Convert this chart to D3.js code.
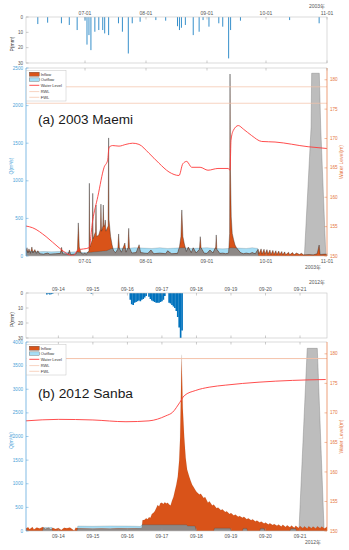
<!DOCTYPE html>
<html><head><meta charset="utf-8">
<script src="https://cdn.jsdelivr.net/npm/d3@7"></script>
<style>
html,body{margin:0;padding:0;background:#fff;}
svg{display:block;font-family:"Liberation Sans",Arial,"Noto Sans CJK SC",sans-serif;}
</style></head><body>
<svg id="chart" width="349" height="550"></svg>
<script>
// ================= DATA =================
const levelTicks = [150, 155, 160, 165, 170, 175, 180];
const levelDomain = [150, 182];
const precipTicks = [0, 10, 20, 30];
const legendLabels = ["Inflow", "Outflow", "Water Level", "RWL", "FWL"];

// ---- (a) 2003 Maemi ----
const yearA = 2003;
const titleA = "(a) 2003 Maemi";
const spanA = ["06-01T00", "11-01T00"];
const ticksA = ["07-01", "08-01", "09-01", "10-01", "11-01"];
const qTicksA = [0, 500, 1000, 1500, 2000, 2500];
const precipA = [["06-07",4.6],["06-12",3.7],["06-19",4.1],["06-23",5.2],["06-27",8.5],["07-01",2.4],["07-02",18],["07-03",11.8],["07-04",21.6],["07-06",9.6],["07-08",8.5],["07-10",8.5],["07-11",10.7],["07-13",11.8],["07-18",4.1],["07-20",9.6],["07-23",23.8],["07-25",4.1],["07-29",3.1],["08-06",2],["08-11",2.4],["08-17",6],["08-18",8.5],["08-19",7],["08-21",5.2],["08-25",11.8],["08-28",9.6],["08-30",2],["09-02",6.3],["09-07",4.1],["09-09",6.3],["09-12",27],["09-13",8.5],["09-18",2.4],["10-13",2],["10-28",4.1]];
const inflowA = [["06-01T00",60],["06-01T12",110],["06-02T00",40],["06-02T12",95],["06-03T06",35],["06-04T00",120],["06-04T12",40],["06-05T12",85],["06-06T06",35],["06-07T00",70],["06-08T00",30],["06-10T00",25],["06-12T00",40],["06-13T00",25],["06-16T00",30],["06-18T12",35],["06-19T02",115],["06-19T16",30],["06-22T12",25],["06-23T02",80],["06-23T16",20],["06-26T12",30],["06-27T04",90],["06-27T14",440],["06-28T02",120],["06-29T00",40],["06-30T00",25],["07-01T00",40],["07-01T12",20],["07-03T00",70],["07-03T05",967],["07-03T10",120],["07-04T12",200],["07-04T18",240],["07-04T22",833],["07-05T03",230],["07-06T00",300],["07-06T08",320],["07-06T14",678],["07-06T20",260],["07-08T00",280],["07-08T20",360],["07-09T02",690],["07-09T10",330],["07-10T01",400],["07-10T07",678],["07-10T13",390],["07-11T01",420],["07-11T07",479],["07-11T15",330],["07-12T18",400],["07-13T00",1570],["07-13T05",480],["07-14T00",260],["07-14T18",150],["07-15T12",70],["07-16T12",45],["07-17T16",90],["07-18T02",293],["07-18T12",100],["07-19T12",50],["07-20T12",120],["07-21T06",173],["07-21T20",50],["07-22T20",110],["07-23T05",368],["07-23T14",110],["07-24T18",40],["07-27T00",45],["07-28T12",150],["07-29T06",45],["07-31T00",40],["08-02T00",35],["08-03T12",80],["08-05T00",30],["08-08T00",40],["08-11T00",30],["08-12T00",70],["08-14T00",30],["08-17T00",35],["08-18T00",120],["08-18T18",260],["08-19T05",612],["08-19T18",260],["08-20T12",160],["08-21T12",60],["08-22T12",120],["08-24T00",45],["08-25T00",110],["08-26T12",40],["08-28T04",90],["08-28T14",257],["08-29T00",110],["08-30T12",40],["09-01T00",35],["09-02T12",80],["09-04T00",40],["09-05T10",120],["09-05T17",280],["09-06T00",90],["09-07T12",35],["09-09T00",40],["09-10T12",30],["09-12T00",40],["09-12T12",300],["09-12T17",2420],["09-12T22",1150],["09-13T08",520],["09-13T20",300],["09-14T12",220],["09-15T06",146],["09-16T00",110],["09-16T22",80],["09-18T00",45],["09-19T12",30],["09-21T00",40],["09-22T12",30],["09-24T00",45],["09-25T12",30],["09-27T00",90],["09-27T12",30],["09-28T12",95],["09-29T00",25],["09-30T00",90],["09-30T12",25],["10-01T12",85],["10-02T00",25],["10-03T00",80],["10-03T12",20],["10-04T12",75],["10-05T00",20],["10-06T00",70],["10-06T12",20],["10-07T12",65],["10-08T00",20],["10-09T00",60],["10-09T12",15],["10-10T12",55],["10-11T00",15],["10-12T12",50],["10-13T00",15],["10-14T12",45],["10-15T06",15],["10-16T12",40],["10-18T00",20],["10-19T00",35],["10-20T00",15],["10-23T00",20],["10-25T00",15],["10-27T00",30],["10-28T00",146],["10-28T12",20],["10-31T00",25],["11-01T00",20]];
const outflowA = [["06-01T00",70],["06-02T00",60],["06-04T00",65],["06-07T00",55],["06-10T00",60],["06-14T00",55],["06-18T00",60],["06-22T00",50],["06-26T00",55],["06-30T00",45],["07-04T00",50],["07-08T00",60],["07-12T00",70],["07-14T12",100],["07-18T00",105],["07-22T00",100],["07-26T00",110],["07-31T00",105],["08-04T00",100],["08-08T00",110],["08-12T00",100],["08-16T00",105],["08-20T00",110],["08-24T00",100],["08-28T00",105],["09-01T00",110],["09-05T00",100],["09-09T00",95],["09-12T00",100],["09-13T00",110],["09-17T00",105],["09-21T00",100],["09-24T00",110],["09-26T20",100],["09-27T04",0],["11-01T00",0]];
const spillA = [["10-20T12",0],["10-23T22",1716],["10-24T05",2430],["10-28T02",2430],["10-28T19",1716],["10-31T10",0]];
const levelA = [["06-01T00",155.1],["06-04T10",154.8],["06-11T05",153.3],["06-17T19",151.4],["06-22T22",150.2],["06-24T22",150.0],["06-27T10",151.0],["07-03T00",151.4],["07-04T22",156.1],["07-07T12",160.1],["07-10T17",165.1],["07-12T12",166.3],["07-13T05",168.5],["07-15T02",168.8],["07-18T07",168.7],["07-21T19",169.0],["07-25T05",169.2],["07-28T10",169.0],["08-02T12",167.5],["08-07T14",165.8],["08-12T17",164.3],["08-17T19",163.7],["08-19T17",165.7],["08-21T17",166.1],["08-24T05",165.1],["08-28T12",165.1],["09-01T12",164.6],["09-06T14",164.9],["09-11T19",164.9],["09-12T17",164.6],["09-13T05",169.7],["09-14T10",171.4],["09-16T22",172.2],["09-19T12",171.6],["09-23T17",170.5],["09-28T19",169.5],["10-05T14",169.4],["10-22T10",168.6],["10-31T22",168.3]];
const rwlA = 176.0, fwlA = 178.8;

// ---- (b) 2012 Sanba ----
const yearB = 2012;
const titleB = "(b) 2012 Sanba";
const spanB = ["09-13T01:30", "09-21T18:45"];
const ticksB = ["09-14", "09-15", "09-16", "09-17", "09-18", "09-19", "09-20", "09-21"];
const qTicksB = [0, 500, 1000, 1500, 2000, 2500, 3000, 3500, 4000];
const precipB = [["09-13T16",1],["09-13T17",0.5],["09-13T18",1],["09-13T19",0.8],["09-13T20",0.5],["09-14T23",0.5],["09-16T02",4.5],["09-16T03",7.5],["09-16T04",8],["09-16T05",6.5],["09-16T06",6],["09-16T07",5.5],["09-16T08",5],["09-16T09",5.5],["09-16T10",4.5],["09-16T11",4],["09-16T12",3],["09-16T13",2],["09-16T15",2.5],["09-16T16",4],["09-16T17",5],["09-16T18",5.5],["09-16T19",6],["09-16T20",6.5],["09-16T21",6.5],["09-16T22",6.5],["09-16T23",6],["09-17T00",5.5],["09-17T01",4.5],["09-17T02",2],["09-17T05",6.5],["09-17T06",7],["09-17T07",8],["09-17T08",9],["09-17T09",10],["09-17T10",12],["09-17T11",16],["09-17T12",23],["09-17T13",30],["09-17T14",25]];
const inflowB = [["09-13T01:30",60],["09-13T03",80],["09-13T04",35],["09-13T06",85],["09-13T07",30],["09-13T09",75],["09-13T11",55],["09-13T13",85],["09-13T15",40],["09-13T17",70],["09-13T19",25],["09-13T20",70],["09-13T22",40],["09-14T00",65],["09-14T02",20],["09-14T04",70],["09-14T06",60],["09-14T08",75],["09-14T10",30],["09-14T11",5],["09-14T12",70],["09-14T14",60],["09-14T18",55],["09-15T00",50],["09-15T06",55],["09-15T12",50],["09-15T18",60],["09-16T00",55],["09-16T06",60],["09-16T10",65],["09-16T10:30",230],["09-16T12",240],["09-16T13",270],["09-16T14",250],["09-16T15",290],["09-16T16",280],["09-16T17",360],["09-16T18",380],["09-16T19",420],["09-16T20",480],["09-16T21",550],["09-16T22",520],["09-16T23",590],["09-17T00",600],["09-17T01",570],["09-17T02",610],["09-17T03",580],["09-17T04",600],["09-17T05",560],["09-17T06",540],["09-17T07",640],["09-17T08",720],["09-17T09",850],["09-17T10",980],["09-17T11",1150],["09-17T12",1500],["09-17T12:40",1995],["09-17T13:40",3730],["09-17T14:30",2600],["09-17T15:30",1990],["09-17T16:30",1550],["09-17T17:30",1300],["09-17T19",1150],["09-17T20",1060],["09-17T21",980],["09-17T22",930],["09-17T23",880],["09-18T00",830],["09-18T02",770],["09-18T03",790],["09-18T05",700],["09-18T06",720],["09-18T08",600],["09-18T09",630],["09-18T11",540],["09-18T12",560],["09-18T14",480],["09-18T15",500],["09-18T17",440],["09-18T18",460],["09-18T20",400],["09-18T21",420],["09-18T23",360],["09-19T00",380],["09-19T02",330],["09-19T03",350],["09-19T05",300],["09-19T06",320],["09-19T08",280],["09-19T09",300],["09-19T11",250],["09-19T12",270],["09-19T14",230],["09-19T15",250],["09-19T17",200],["09-19T18",220],["09-19T20",180],["09-19T21",200],["09-19T23",160],["09-20T00",180],["09-20T02",140],["09-20T03",165],["09-20T05",125],["09-20T06",150],["09-20T08",110],["09-20T09",140],["09-20T11",95],["09-20T12",130],["09-20T14",85],["09-20T15",120],["09-20T17",80],["09-20T18",115],["09-20T20",70],["09-20T21",110],["09-20T23",65],["09-21T00",105],["09-21T02",60],["09-21T03",100],["09-21T05",55],["09-21T06",100],["09-21T08",60],["09-21T09",95],["09-21T11",55],["09-21T12",100],["09-21T14",60],["09-21T15",95],["09-21T17",55],["09-21T18:45",90]];
const outflowB = [["09-13T01:30",0],["09-13T13",0],["09-13T13:30",75],["09-13T19:30",75],["09-13T20",0],["09-14T13",0],["09-14T13:30",105],["09-15T00",100],["09-15T12",108],["09-15T23:30",105],["09-16T07",100],["09-16T09",95],["09-16T10",130],["09-17T17",130],["09-17T18",105],["09-17T23",105],["09-18T00",0],["09-18T12",0],["09-18T12:30",60],["09-18T23:30",60],["09-19T00",0],["09-19T08",0],["09-19T08:30",55],["09-19T11",55],["09-19T11:30",0],["09-19T20",0],["09-19T20:30",55],["09-19T23",55],["09-19T23:30",0],["09-20T17",0],["09-20T17:30",50],["09-20T21",50],["09-20T21:30",0],["09-21T18:45",0]];
const spillB = [["09-20T23:15",0],["09-21T05",3866],["09-21T12",3866],["09-21T16:45",0]];
const levelB = [["09-13T01:30",168.65],["09-14T00",168.9],["09-15T00",168.8],["09-15T23",168.5],["09-16T15",168.65],["09-17T02:45",169.5],["09-17T07:24",170.1],["09-17T12:30",171.8],["09-17T15:30",172.9],["09-17T23:30",173.8],["09-18T08:50",174.35],["09-18T20:20",174.7],["09-19T19:30",175.2],["09-20T18:45",175.5],["09-21T17:50",175.65]];
const rwlB = 179.2, fwlB = 179.2;

// ================= DRAWING =================
const LEFT = 26, RIGHT = 327;
const ORANGE = "#D95319", BLUE_FILL = "#A6DEF6", OVERLAP = "#8d8886", SPILL = "#bdbdbd";
const WL_RED = "#FF3a3a", REF_LINE = "#F4C0A6", RAIN = "#0072BD";
const Q_COL = "#4A9FD8", L_COL = "#E5773F", BOX = "#c4c4c4", TXT = "#555";

function parseT(year, s) {
  const [md, hm = "00"] = s.split("T");
  const [h, m = "0"] = hm.split(":");
  return new Date(Date.UTC(year, +md.slice(0, 2) - 1, +md.slice(3, 5), +h, +m));
}
const toSeries = (year, arr) => arr.map(([s, v]) => ({ t: parseT(year, s), v }));

function interp(s, t) {
  const n = s.length;
  if (t < +s[0].t || t > +s[n - 1].t) return 0;
  const i = d3.bisector(d => +d.t).left(s, t);
  if (i < n && +s[i].t === t) return s[i].v;
  const p = s[i - 1], q = s[i];
  return p.v + (q.v - p.v) * (t - p.t) / (q.t - p.t);
}
function overlapSeries(a, b) {
  const times = Array.from(new Set([...a, ...b].map(d => +d.t))).sort((m, n) => m - n);
  const out = [];
  for (let k = 0; k < times.length; k++) {
    const t = times[k];
    if (k > 0) {
      const t0 = times[k - 1];
      const d0 = interp(a, t0) - interp(b, t0), d1 = interp(a, t) - interp(b, t);
      if (d0 * d1 < 0) {
        const tc = t0 + (t - t0) * d0 / (d0 - d1);
        out.push({ t: new Date(tc), v: Math.min(interp(a, tc), interp(b, tc)) });
      }
    }
    out.push({ t: new Date(t), v: Math.min(interp(a, t), interp(b, t)) });
  }
  return out;
}

const svg = d3.select("#chart");
const defs = svg.append("defs");

function drawPanel(P) {
  const x = d3.scaleUtc().domain([parseT(P.year, P.span[0]), parseT(P.year, P.span[1])]).range([LEFT, RIGHT]);
  const yP = d3.scaleLinear().domain([0, 30]).range([P.pTop, P.pBot]);
  const yQ = d3.scaleLinear().domain([0, P.qTicks[P.qTicks.length - 1]]).range([P.mBot, P.mTop]);
  const yL = d3.scaleLinear().domain(levelDomain).range([P.mBot, P.mTop]);
  const tickDates = P.ticks.map(s => parseT(P.year, s));
  const g = svg.append("g");

  defs.append("clipPath").attr("id", "cp" + P.id).append("rect")
    .attr("x", LEFT).attr("y", P.pTop).attr("width", RIGHT - LEFT).attr("height", P.pBot - P.pTop);
  defs.append("clipPath").attr("id", "cm" + P.id).append("rect")
    .attr("x", LEFT).attr("y", P.mTop).attr("width", RIGHT - LEFT).attr("height", P.mBot - P.mTop);

  // ---------- precipitation panel ----------
  const pr = toSeries(P.year, P.precip);
  const bw = (x(new Date(+pr[0].t + P.barHours * 3600e3)) - x(pr[0].t)) * P.barFrac;
  g.append("g").attr("clip-path", `url(#cp${P.id})`)
    .selectAll("rect").data(pr).join("rect")
    .attr("x", d => x(d.t) - bw / 2).attr("width", bw)
    .attr("y", yP(0)).attr("height", d => yP(d.v) - yP(0))
    .attr("fill", RAIN).attr("fill-opacity", P.barOpacity);
  g.append("rect").attr("x", LEFT).attr("y", P.pTop).attr("width", RIGHT - LEFT).attr("height", P.pBot - P.pTop)
    .attr("fill", "none").attr("stroke", BOX).attr("stroke-width", 0.6);
  precipTicks.forEach(v => {
    g.append("line").attr("x1", LEFT).attr("x2", LEFT + 2.5).attr("y1", yP(v)).attr("y2", yP(v)).attr("stroke", "#999").attr("stroke-width", 0.5);
    g.append("text").attr("x", LEFT - 3).attr("y", yP(v)).attr("dy", "0.35em").attr("text-anchor", "end")
      .attr("font-size", 4.6).attr("fill", TXT).text(v);
  });
  tickDates.forEach((d, i) => {
    const xx = x(d);
    g.append("line").attr("x1", xx).attr("x2", xx).attr("y1", P.pBot).attr("y2", P.pBot - 2.5).attr("stroke", "#999").attr("stroke-width", 0.5);
    g.append("line").attr("x1", xx).attr("x2", xx).attr("y1", P.pTop).attr("y2", P.pTop + 2.5).attr("stroke", "#999").attr("stroke-width", 0.5);
    g.append("text").attr("x", xx).attr("y", P.pTop - 2.5).attr("text-anchor", "middle")
      .attr("font-size", 5).attr("fill", TXT).text(P.ticks[i]);
  });
  g.append("text").attr("x", 325).attr("y", P.pTop - 9.5).attr("text-anchor", "end")
    .attr("font-size", 5).attr("fill", TXT).text(P.year + "年");
  g.append("text").attr("transform", `translate(14,${(P.pTop + P.pBot) / 2 + 4}) rotate(-90)`)
    .attr("text-anchor", "middle").attr("font-size", 5).attr("fill", "#333").text("P(mm)");

  // ---------- main panel ----------
  const mg = g.append("g").attr("clip-path", `url(#cm${P.id})`);
  const area = d3.area().x(d => x(d.t)).y0(yQ(0)).y1(d => yQ(d.v));
  const line = d3.line().x(d => x(d.t)).y(d => yQ(d.v));
  const inflow = toSeries(P.year, P.inflow);
  const outflow = toSeries(P.year, P.outflow);
  const spill = toSeries(P.year, P.spill);
  const over = overlapSeries(inflow, outflow);

  mg.append("path").attr("d", area(spill)).attr("fill", SPILL).attr("stroke", "#7a7a7a").attr("stroke-width", 0.4);
  mg.append("path").attr("d", area(outflow)).attr("fill", BLUE_FILL);
  mg.append("path").attr("d", area(inflow)).attr("fill", ORANGE);
  mg.append("path").attr("d", area(over)).attr("fill", OVERLAP);
  mg.append("path").attr("d", line(outflow)).attr("fill", "none").attr("stroke", "#000").attr("stroke-opacity", 0.45).attr("stroke-width", 0.3);
  mg.append("path").attr("d", line(inflow)).attr("fill", "none").attr("stroke", "#1a1a1a").attr("stroke-opacity", P.edgeOpacity).attr("stroke-width", P.edgeWidth);

  [P.rwl, P.fwl].forEach(v => {
    mg.append("line").attr("x1", LEFT).attr("x2", RIGHT).attr("y1", yL(v)).attr("y2", yL(v))
      .attr("stroke", REF_LINE).attr("stroke-width", 0.7);
  });
  const wl = toSeries(P.year, P.level);
  mg.append("path").attr("d", d3.line().x(d => x(d.t)).y(d => yL(d.v)).curve(d3.curveMonotoneX)(wl))
    .attr("fill", "none").attr("stroke", WL_RED).attr("stroke-width", 0.9);

  g.append("line").attr("x1", LEFT).attr("x2", RIGHT).attr("y1", P.mTop).attr("y2", P.mTop).attr("stroke", BOX).attr("stroke-width", 0.6);
  g.append("line").attr("x1", LEFT).attr("x2", RIGHT).attr("y1", P.mBot).attr("y2", P.mBot).attr("stroke", BOX).attr("stroke-width", 0.6);
  g.append("line").attr("x1", LEFT).attr("x2", LEFT).attr("y1", P.mTop).attr("y2", P.mBot).attr("stroke", Q_COL).attr("stroke-width", 0.7);
  g.append("line").attr("x1", RIGHT).attr("x2", RIGHT).attr("y1", P.mTop).attr("y2", P.mBot).attr("stroke", L_COL).attr("stroke-width", 0.7);

  tickDates.forEach((d, i) => {
    const xx = x(d);
    g.append("line").attr("x1", xx).attr("x2", xx).attr("y1", P.mBot).attr("y2", P.mBot - 2.5).attr("stroke", "#999").attr("stroke-width", 0.5);
    g.append("line").attr("x1", xx).attr("x2", xx).attr("y1", P.mTop).attr("y2", P.mTop + 2.5).attr("stroke", "#999").attr("stroke-width", 0.5);
    g.append("text").attr("x", xx).attr("y", P.mBot + 6.5).attr("text-anchor", "middle")
      .attr("font-size", 5).attr("fill", TXT).text(P.ticks[i]);
  });
  g.append("text").attr("x", 321).attr("y", P.mBot + 12.8).attr("text-anchor", "end")
    .attr("font-size", 5).attr("fill", TXT).text(P.year + "年");

  P.qTicks.forEach(v => {
    g.append("line").attr("x1", LEFT).attr("x2", LEFT + 2.5).attr("y1", yQ(v)).attr("y2", yQ(v)).attr("stroke", Q_COL).attr("stroke-width", 0.5);
    g.append("text").attr("x", LEFT - 3).attr("y", yQ(v)).attr("dy", "0.35em").attr("text-anchor", "end")
      .attr("font-size", 4.6).attr("fill", Q_COL).text(v);
  });
  g.append("text").attr("transform", `translate(13,${(P.mTop + P.mBot) / 2 + 4}) rotate(-90)`)
    .attr("text-anchor", "middle").attr("font-size", 5).attr("fill", Q_COL).text("Q(m³/s)");

  levelTicks.forEach(v => {
    g.append("line").attr("x1", RIGHT).attr("x2", RIGHT - 2.5).attr("y1", yL(v)).attr("y2", yL(v)).attr("stroke", L_COL).attr("stroke-width", 0.5);
    g.append("text").attr("x", RIGHT + 3).attr("y", yL(v)).attr("dy", "0.35em").attr("text-anchor", "start")
      .attr("font-size", 4.6).attr("fill", L_COL).text(v);
  });
  g.append("text").attr("transform", `translate(343,${(P.mTop + P.mBot) / 2}) rotate(-90)`)
    .attr("text-anchor", "middle").attr("font-size", 5).attr("fill", L_COL).text("Water Level(m)");

  g.append("text").attr("x", 38).attr("y", P.mTop + 55.5).attr("font-size", 12).attr("fill", "#1a1a1a")
    .attr("textLength", 95).attr("lengthAdjust", "spacingAndGlyphs").text(P.title);

  const lt = P.mTop + 2.3;
  const lg = g.append("g");
  lg.append("rect").attr("x", LEFT + 0.5).attr("y", lt).attr("width", 39.5).attr("height", 30.7)
    .attr("fill", "#fff").attr("stroke", BOX).attr("stroke-width", 0.5);
  const rows = [lt + 3.9, lt + 9.3, lt + 15, lt + 21.3, lt + 27];
  lg.append("rect").attr("x", 29.3).attr("y", rows[0] - 2).attr("width", 10).attr("height", 4)
    .attr("fill", ORANGE).attr("stroke", "#333").attr("stroke-width", 0.3);
  lg.append("rect").attr("x", 29.3).attr("y", rows[1] - 1.7).attr("width", 10).attr("height", 3.4)
    .attr("fill", BLUE_FILL).attr("stroke", "#333").attr("stroke-width", 0.3);
  lg.append("line").attr("x1", 29.3).attr("x2", 39.3).attr("y1", rows[2]).attr("y2", rows[2]).attr("stroke", WL_RED).attr("stroke-width", 0.9);
  lg.append("line").attr("x1", 29.3).attr("x2", 39.3).attr("y1", rows[3]).attr("y2", rows[3]).attr("stroke", REF_LINE).attr("stroke-width", 0.7);
  lg.append("line").attr("x1", 29.3).attr("x2", 39.3).attr("y1", rows[4]).attr("y2", rows[4]).attr("stroke", REF_LINE).attr("stroke-width", 0.7);
  legendLabels.forEach((s, i) => {
    lg.append("text").attr("x", 40.7).attr("y", rows[i]).attr("dy", "0.35em").attr("font-size", 4)
      .attr("fill", "#333").text(s);
  });
}

drawPanel({ id: "a", year: yearA, title: titleA, span: spanA, ticks: ticksA, qTicks: qTicksA,
  precip: precipA, inflow: inflowA, outflow: outflowA, spill: spillA, level: levelA, rwl: rwlA, fwl: fwlA,
  barHours: 24, barFrac: 0.5, barOpacity: 0.8, edgeOpacity: 0.8, edgeWidth: 0.45,
  pTop: 17, pBot: 63, mTop: 68, mBot: 256 });
drawPanel({ id: "b", year: yearB, title: titleB, span: spanB, ticks: ticksB, qTicks: qTicksB,
  precip: precipB, inflow: inflowB, outflow: outflowB, spill: spillB, level: levelB, rwl: rwlB, fwl: fwlB,
  barHours: 1, barFrac: 1.15, barOpacity: 1, edgeOpacity: 0.2, edgeWidth: 0.3,
  pTop: 293, pBot: 338, mTop: 342, mBot: 531 });
</script>
</body></html>
